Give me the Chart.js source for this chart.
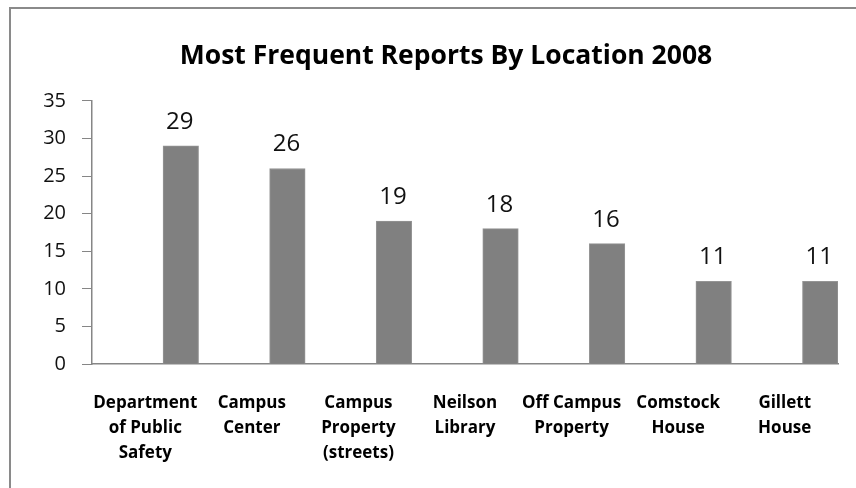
<!DOCTYPE html>
<html>
<head>
<meta charset="utf-8">
<script src="https://cdn.jsdelivr.net/npm/chart.js@4"></script>
<style>
  body { margin: 0; background: #fff; }
  #wrap { position: relative; width: 856px; height: 488px; }
  #frameTop { position: absolute; left: 9px; top: 7px; right: 0; height: 2px; background: #8a8a8a; }
  #frameLeft { position: absolute; left: 9px; top: 7px; bottom: 0; width: 2px; background: #8a8a8a; }
</style>
</head>
<body>
<div id="wrap">
  <canvas id="reportChart" width="856" height="488"></canvas>
  <div id="frameTop"></div>
  <div id="frameLeft"></div>
</div>
<script>
  // categories (multi-line labels) and counts
  const locations = [
    ['Department', 'of Public', 'Safety'],
    ['Campus', 'Center'],
    ['Campus', 'Property', '(streets)'],
    ['Neilson', 'Library'],
    ['Off Campus', 'Property'],
    ['Comstock', 'House'],
    ['Gillett', 'House']
  ];
  const reports = [29, 26, 19, 18, 16, 11, 11];
  const yTicks = [0, 5, 10, 15, 20, 25, 30, 35];

  // values printed above each bar
  const valueLabels = {
    id: 'valueLabels',
    afterDatasetsDraw(chart) {
      const ctx = chart.ctx;
      const meta = chart.getDatasetMeta(2);
      ctx.save();
      ctx.font = '24px "Open Sans"';
      ctx.fillStyle = '#111';
      ctx.textAlign = 'center';
      ctx.textBaseline = 'alphabetic';
      meta.data.forEach((bar, i) => {
        ctx.fillText(String(reports[i]), bar.x - 1, bar.y - 17);
      });
      ctx.restore();
    }
  };

  // excel centres the title a bit right of the canvas middle
  const shiftTitle = {
    id: 'shiftTitle',
    afterLayout(chart) {
      if (chart.titleBlock) chart.titleBlock.left = 54;
    }
  };

  new Chart(document.getElementById('reportChart'), {
    type: 'bar',
    data: {
      labels: locations,
      datasets: [
        { label: 'spacer1', data: [] },
        { label: 'spacer2', data: [] },
        {
          label: 'Reports',
          data: reports,
          backgroundColor: '#808080',
          borderColor: '#959595',
          borderWidth: 1
        }
      ]
    },
    options: {
      responsive: false,
      animation: false,
      layout: { padding: { left: 0, right: 18, top: 0, bottom: -5 } },
      datasets: { bar: { categoryPercentage: 1, barPercentage: 1 } },
      plugins: {
        legend: { display: false },
        tooltip: { enabled: false },
        title: {
          display: true,
          text: 'Most Frequent Reports By Location 2008',
          color: '#000',
          font: { family: 'Open Sans', size: 26.5, weight: 'bold' },
          padding: { top: 41, bottom: 28 }
        }
      },
      scales: {
        x: {
          grid: { display: false, drawTicks: false },
          border: { color: '#868686', width: 1.5 },
          ticks: {
            color: '#000',
            padding: 27,
            maxRotation: 0,
            autoSkip: false,
            font: { family: 'Open Sans', size: 17, weight: 'bold', lineHeight: 1.47 }
          }
        },
        y: {
          min: 0,
          max: 35,
          afterBuildTicks(scale) { scale.ticks = yTicks.map(v => ({ value: v })); },
          afterFit(scale) { scale.width = 92; },
          grid: { drawOnChartArea: false, tickLength: 10, color: '#868686' },
          border: { color: '#868686', width: 1.5 },
          ticks: {
            color: '#111',
            padding: 16,
            font: { family: 'Open Sans', size: 20 }
          }
        }
      }
    },
    plugins: [valueLabels, shiftTitle]
  });
</script>
</body>
</html>
